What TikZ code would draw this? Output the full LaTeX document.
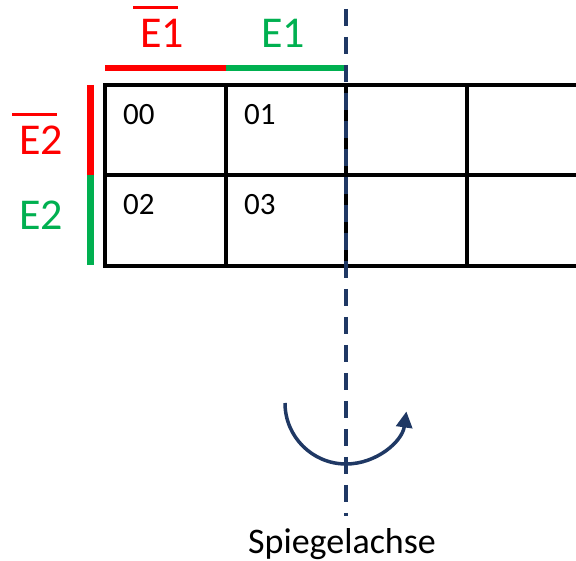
\documentclass[tikz,border=0pt]{standalone}
\usepackage{fontspec}
\setmainfont{Carlito}
\usetikzlibrary{arrows.meta}
\definecolor{kred}{HTML}{FF0000}
\definecolor{kgreen}{HTML}{00B050}
\definecolor{knavy}{HTML}{1F3864}
\newcommand{\obar}[1]{\rlap{\kern-7pt\raisebox{38.5pt}{\rule{45pt}{3pt}}}#1}
\begin{document}
\begin{tikzpicture}[x=1pt,y=1pt,
  gridline/.style={line width=4pt,black,line join=miter},
  barline/.style={line width=7pt},
  lbl/.style={inner sep=0pt,anchor=base west,font=\fontsize{44}{44}\selectfont},
  cell/.style={inner sep=0pt,anchor=base west,font=\fontsize{31}{31}\selectfont},
  axisline/.style={knavy,line width=3.5pt,dash pattern=on 17pt off 11pt}]
\useasboundingbox (0,0) rectangle (576,560);
% grid
\coordinate (gtl) at (105,475);
\coordinate (gml) at (105,385);
\coordinate (gbl) at (105,294);
\coordinate (gtr) at (576,475);
\coordinate (gmr) at (576,385);
\coordinate (gbr) at (576,294);
\coordinate (c1t) at (226,475); \coordinate (c1b) at (226,294);
\coordinate (c2t) at (346,475); \coordinate (c2b) at (346,294);
\coordinate (c3t) at (467,475); \coordinate (c3b) at (467,294);
\draw[gridline] (gtr) -- (gtl) -- (gbl) -- (gbr);
\draw[gridline] (gml) -- (gmr);
\draw[gridline] (c1t) -- (c1b);
\draw[gridline] (c2t) -- (c2b);
\draw[gridline] (c3t) -- (c3b);
% colour bars
\coordinate (ta) at (105,492); \coordinate (tb) at (226,492); \coordinate (tc) at (346,492);
\draw[barline,line width=6pt,kred] (ta) -- (tb);
\draw[barline,line width=6pt,kgreen] (tb) -- (tc);
\coordinate (la) at (90,475); \coordinate (lb) at (90,385); \coordinate (lc) at (90,295);
\draw[barline,kred] (la) -- (lb);
\draw[barline,kgreen] (lb) -- (lc);
% labels
\node[lbl,text=kred] (e1n) at (140,512) {\obar{E1}};
\node[lbl,text=kgreen] (e1) at (261,512) {E1};
\node[lbl,text=kred] (e2n) at (19,405) {\obar{E2}};
\node[lbl,text=kgreen] (e2) at (19,330) {E2};
% cells
\node[cell] (m00) at (123,435) {00};
\node[cell] (m01) at (244,435) {01};
\node[cell] (m02) at (123,345) {02};
\node[cell] (m03) at (244,345) {03};
% mirror axis
\coordinate (axtop) at (346,551);
\coordinate (axbot) at (346,44);
\draw[axisline] (axtop) -- (axbot);
\coordinate (arcstart) at (285,157);
\draw[knavy,line width=3.5pt,-{Triangle[length=16pt,width=16pt]}] (arcstart) arc[start angle=180,end angle=352,radius=61];
\node[inner sep=0pt,anchor=base,font=\fontsize{36}{36}\selectfont] (spiegel) at (342,7) {Spiegelachse};
\end{tikzpicture}
\end{document}
